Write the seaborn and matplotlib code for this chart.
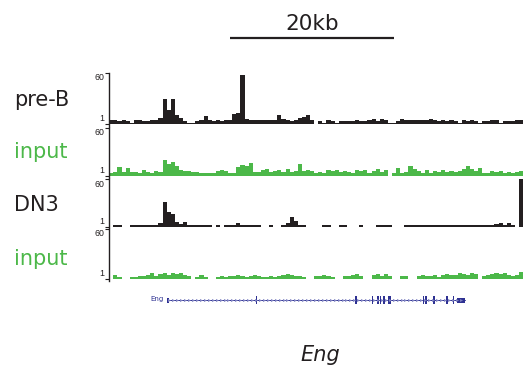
import numpy as np
import pandas as pd
import matplotlib
matplotlib.use("Agg")
import matplotlib.pyplot as plt
import seaborn as sns

# ---------------- data (signal per 0.5 kb bin, track units 1..60) ----------------
track_names = ["pre-B", "input", "DN3", "input"]
pre_b = [5, 4.5, 3.5, 5.5, 3.5, 2, 4.5, 4.5, 3.5, 3.5,
         4.5, 4.5, 7, 29, 17, 29, 11, 7, 4, 1.5,
         1.5, 3.5, 4.5, 10, 4.5, 3.5, 4.5, 3.5, 5.5, 4.5,
         12, 13, 57, 6, 4.5, 4.5, 4.5, 4.5, 4.5, 4.5,
         5.5, 11, 6.5, 4.5, 3.5, 4.5, 7, 8, 11, 4.5,
         1, 4, 1.5, 4.5, 3.5, 2, 3.5, 3.5, 3.5, 3.5,
         4.5, 3.5, 3.5, 4.5, 6.5, 3.5, 6.5, 4.5, 2, 2,
         3.5, 6.5, 5.5, 4.5, 4.5, 4.5, 4.5, 5.5, 6.5, 4.5,
         3.5, 4.5, 3.5, 4.5, 3.5, 2, 4.5, 3.5, 4.5, 3.5,
         2, 3.5, 3.5, 4.5, 5.5, 2, 3.5, 3.5, 3.5, 4.5,
         5.5]
input_preb = [3.5, 5.5, 12, 5.5, 10, 5.5, 5.5, 4.5, 7.5, 5.5,
              4.5, 6.5, 5.5, 20, 15, 17, 13, 7.5, 6.5, 6.5,
              5.5, 5.5, 4.5, 4.5, 4.5, 4.5, 6.5, 7.5, 6.5, 4.5,
              4.5, 11, 14, 13, 16, 5.5, 5.5, 7.5, 9, 5.5,
              6.5, 7.5, 5.5, 8.5, 5.5, 6.5, 15, 6.5, 7.5, 6.5,
              4.5, 5.5, 3.5, 7.5, 6.5, 7.5, 5.5, 6.5, 5.5, 4.5,
              7.5, 6.5, 7.5, 4.5, 6.5, 8.5, 5.5, 7.5, 0, 3.5,
              10, 4.5, 5.5, 13, 9, 6.5, 4.5, 7.5, 3.5, 6.5,
              5.5, 7.5, 5.5, 6.5, 5.5, 6.5, 9, 13, 8.5, 6.5,
              10, 4.5, 4.5, 6.5, 5.5, 6.5, 4.5, 5.5, 3.5, 5.5,
              6.5]
dn3 = [1, 3, 3, 0, 0, 3, 3, 3, 3, 3,
       3, 3, 5, 32, 19, 17, 6, 4, 6, 3,
       3, 3, 3, 3, 3, 0, 3, 0, 3, 3,
       3, 5, 3, 3, 3, 3, 3, 0, 0, 3,
       0, 0, 3, 5, 13, 8, 3, 3, 0, 0,
       0, 0, 3, 3, 0, 0, 3, 3, 0, 0,
       0, 3, 0, 0, 0, 3, 3, 3, 3, 0,
       0, 0, 3, 3, 3, 3, 3, 3, 3, 3,
       3, 3, 3, 3, 3, 3, 3, 3, 3, 3,
       3, 3, 3, 3, 4, 5, 3, 5, 3, 0,
       60]
input_dn3 = [0, 5, 3, 0, 0, 3, 3, 4, 4, 5,
             8, 4, 6, 7, 5, 7, 6, 7, 5, 4,
             0, 3, 5, 3, 0, 0, 3, 4, 3, 4,
             4, 5, 4, 3, 4, 5, 4, 3, 3, 4,
             3, 4, 5, 6, 5, 4, 4, 3, 0, 0,
             4, 4, 5, 4, 3, 0, 0, 4, 4, 5,
             6, 4, 0, 0, 5, 6, 4, 6, 4, 0,
             0, 4, 4, 0, 0, 4, 5, 4, 4, 5,
             3, 5, 6, 5, 5, 7, 6, 5, 8, 6,
             0, 4, 5, 6, 7, 6, 7, 5, 4, 5,
             9]
track_values = [pre_b, input_preb, dn3, input_dn3]
y_range = [1, 60]
bin_kb = 0.5
region_kb = 50.6

# gene model (kb from left edge of the view)
gene_name = "Eng"
gene_start, gene_end = 7.04, 43.41
exon_start = [7.04, 17.85, 30.03, 32.02, 32.68, 33.00, 33.41, 34.00, 38.24, 38.57, 39.50, 41.09, 41.90, 42.40]
exon_end = [7.28, 18.03, 30.21, 32.20, 32.86, 33.18, 33.59, 34.40, 38.42, 38.75, 39.76, 41.27, 42.08, 43.41]
scale_start, scale_len = 14.76, 20
scale_label = "20kb"

# ---------------- style ----------------
sns.set_style("white")
plt.rcParams["font.family"] = ["DejaVu Sans"]
BLACK = "#231f20"
GREEN = "#4cb849"
NAVY = "#2e3192"
track_colors = [BLACK, GREEN, BLACK, GREEN]

W, H = 524, 372
fig = plt.figure(figsize=(W / 100, H / 100), dpi=100)


def frac(x0, ytop, x1, ybot):
    return [x0 / W, 1 - ybot / H, (x1 - x0) / W, (ybot - ytop) / H]


X0, X1 = 109.3, 524
tops = [72.5, 127.5, 179.0, 228.5]
bases = [123.5, 175.5, 226.5, 278.5]
bottoms = [127.5, 179.0, 228.5, 280.5]
label_baselines = [106, 158.5, 211, 265]

nbins = len(pre_b)
centers = (np.arange(nbins) + 0.5) * bin_kb

for i, vals in enumerate(track_values):
    ax = fig.add_axes(frac(X0, tops[i], X1, bottoms[i]))
    df = pd.DataFrame({"pos": centers,
                       "signal": np.clip(np.array(vals, dtype=float) - y_range[0], 0, None)})
    sns.histplot(data=df, x="pos", weights="signal", bins=nbins,
                 binrange=(0, nbins * bin_kb), element="step", fill=True,
                 color=track_colors[i], alpha=1, linewidth=0, ax=ax)
    span = y_range[1] - y_range[0]
    upp = span / (bases[i] - tops[i])
    ax.set_ylim(-(bottoms[i] - bases[i]) * upp, span)
    ax.set_xlim(0, region_kb)
    ax.set_xlabel("")
    ax.set_ylabel("")
    ax.set_xticks([])
    ax.set_yticks([0, span])
    ax.tick_params(axis="y", length=3.2, width=0.8, direction="out", color=BLACK,
                   labelleft=False, left=True)
    for s in ["top", "right", "bottom"]:
        ax.spines[s].set_visible(False)
    ax.spines["left"].set_linewidth(1.0)
    ax.spines["left"].set_color(BLACK)
    tr = ax.get_yaxis_transform()
    ax.text(-0.011, span - 0.6 * upp, str(y_range[1]), transform=tr, ha="right", va="top",
            fontsize=6.3, family="Liberation Sans", color=BLACK)
    ax.text(-0.011, 0.8 * upp, str(y_range[0]), transform=tr, ha="right", va="bottom",
            fontsize=6.3, family="Liberation Sans", color=BLACK)
    fig.text(14 / W, 1 - label_baselines[i] / H, track_names[i], ha="left", va="baseline",
             fontsize=15, color=track_colors[i])

# scale bar
axs = fig.add_axes(frac(X0, 0, X1, 50))
axs.set_xlim(0, region_kb)
axs.set_ylim(50, 0)
axs.axis("off")
axs.plot([scale_start, scale_start + scale_len], [38, 38], color=BLACK, lw=1.6,
         solid_capstyle="butt")
axs.text(scale_start + scale_len / 2, 29.5, scale_label, ha="center", va="baseline",
         fontsize=15.5, color=BLACK)

# gene track
axg = fig.add_axes(frac(X0, 290, X1, 310))
axg.set_xlim(0, region_kb)
axg.set_ylim(-10, 10)
axg.axis("off")
axg.plot([gene_start, gene_end], [0, 0], color=NAVY, lw=0.7)
chev = np.arange(gene_start + 0.3, gene_end - 0.2, 0.48)
axg.plot(chev, np.zeros_like(chev), ls="none", marker=">", ms=2.2, mew=0,
         color="#7d80c0")
for k, (s, e) in enumerate(zip(exon_start, exon_end)):
    h = 5 if k in (0, len(exon_start) - 1) else 8
    axg.bar(s, h, width=e - s, bottom=-h / 2, align="edge", color=NAVY, lw=0)
axg.text(gene_start - 0.45, 0.5, gene_name, ha="right", va="center", fontsize=5,
         color=NAVY)

# gene name below
fig.text(320 / W, 1 - 361 / H, gene_name, ha="center", va="baseline", fontsize=15,
         style="italic", color=BLACK)

fig.savefig("out.png", dpi=100)
